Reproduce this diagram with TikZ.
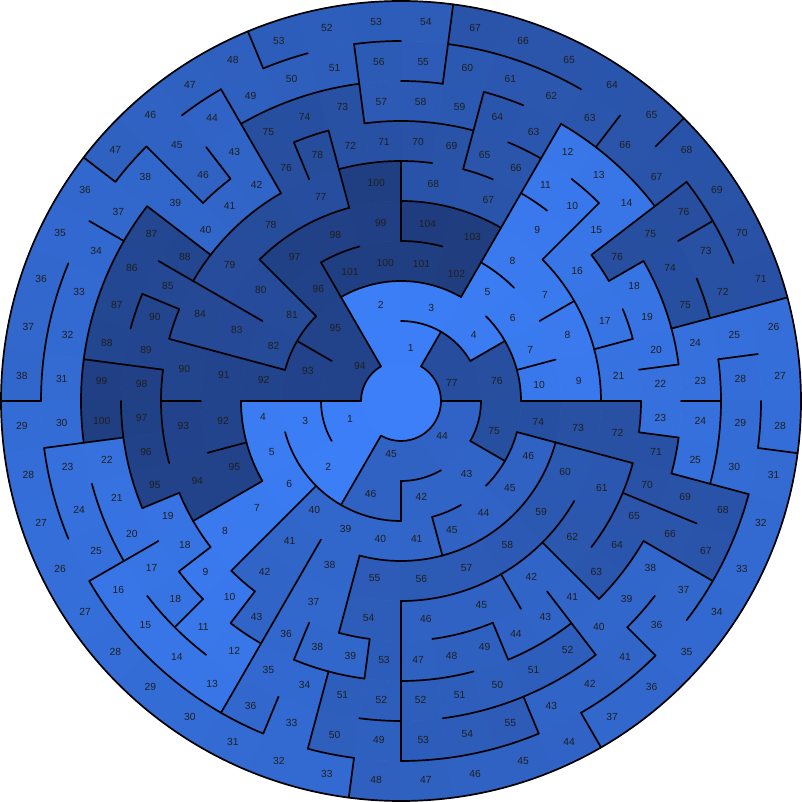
\documentclass[tikz,border=0pt]{standalone}
\usepackage{fontspec}
\setmainfont{Liberation Sans}
\definecolor{cLight}{RGB}{60,127,248}
\definecolor{cDark}{RGB}{31,60,126}
\tikzset{
  cellfill/.style={fill=cDark!#1!cLight,draw=cDark!#1!cLight,line width=0.6pt},
  wall/.style={draw=black,line width=1.7pt,line cap=round},
  lbl/.style={font=\fontsize{10.3}{12}\selectfont,text=black!88,inner sep=0pt}
}
% cell numbers, ring by ring, counter-clockwise from 0 degrees
\def\RZ{{0,0}}
\def\RA{{77,1,94,1,45,44}}
\def\RB{{76,4,3,2,95,93,3,2,46,42,43,75}}
\def\RC{{10,7,6,5,102,101,100,101,96,81,82,92,4,5,6,40,39,40,41,45,44,45,46,74}}
\def\RD{{9,8,7,8,103,104,99,98,97,80,83,91,92,95,7,41,38,55,56,57,58,59,60,73}}
\def\RE{{21,17,16,9,67,68,100,77,78,79,84,90,93,94,8,42,37,54,46,45,42,62,61,72}}
\def\RF{{22,20,19,18,76,15,10,11,66,65,69,70,71,72,78,76,42,41,40,88,85,90,89,98,97,96,95,19,18,9,10,43,36,38,39,53,47,48,49,44,43,41,63,64,65,70,71,23}}
\def\RG{{23,24,75,74,75,14,13,12,63,64,59,58,57,73,74,75,43,46,39,87,86,87,88,99,100,22,21,20,17,18,11,12,35,34,51,52,52,51,50,51,52,40,39,38,66,69,25,24}}
\def\RH{{28,25,72,73,76,67,66,63,62,61,60,55,56,51,50,49,44,45,38,37,34,33,32,31,30,23,24,25,16,15,14,13,36,33,50,49,53,54,55,43,42,41,36,37,67,68,30,29}}
\def\RI{{27,26,71,70,69,68,65,64,65,66,67,54,53,52,53,48,47,46,47,36,35,36,37,38,29,28,27,26,27,28,29,30,31,32,33,48,47,46,45,44,37,36,35,34,33,32,31,28}}
% #1 array, #2 cells, #3 last index, #4 inner radius
\newcommand\MzFill[4]{%
  \foreach \Mc in {0,...,#3}{%
    \pgfmathtruncatemacro\Mv{#1[\Mc]}%
    \pgfmathsetmacro\Mta{\Mc*(360/#2)}%
    \pgfmathsetmacro\Mtb{(\Mc+1)*(360/#2)}%
    \pgfmathsetmacro\Mro{#4+40}%
    \pgfmathtruncatemacro\Mpc{round(100*\Mv/104)}%
    \filldraw[cellfill=\Mpc] (\Mta:#4pt) arc[start angle=\Mta,end angle=\Mtb,radius=#4pt]
      -- (\Mtb:\Mro pt) arc[start angle=\Mtb,end angle=\Mta,radius=\Mro pt] -- cycle;
  }%
}
% #1 array, #2 cells, #3 last index, #4 inner radius, #5 inner array, #6 inner cells
\newcommand\MzWalls[6]{%
  \foreach \Mc in {0,...,#3}{%
    \pgfmathtruncatemacro\Mv{#1[\Mc]}%
    \pgfmathtruncatemacro\Mpidx{mod(\Mc+#2-1,#2)}%
    \pgfmathtruncatemacro\Mpv{#1[\Mpidx]}%
    \pgfmathtruncatemacro\Miidx{floor(\Mc*#6/#2)}%
    \pgfmathtruncatemacro\Miv{#5[\Miidx]}%
    \pgfmathsetmacro\Mta{\Mc*(360/#2)}%
    \pgfmathsetmacro\Mtb{(\Mc+1)*(360/#2)}%
    \pgfmathsetmacro\Mro{#4+40}%
    \pgfmathtruncatemacro\Mdr{abs(\Mv-\Mpv)}%
    \pgfmathtruncatemacro\Mdi{abs(\Mv-\Miv)}%
    \ifnum\Mdr=1\relax\else\draw[wall] (\Mta:#4pt) -- (\Mta:\Mro pt);\fi
    \ifnum\Mdi=1\relax\else\draw[wall] (\Mta:#4pt) arc[start angle=\Mta,end angle=\Mtb,radius=#4pt];\fi
  }%
}
% #1 array, #2 cells, #3 last index, #4 label radius, #5 angle offset, #6 name prefix
\newcommand\MzLabels[6]{%
  \foreach \Mc in {0,...,#3}{%
    \pgfmathtruncatemacro\Mv{#1[\Mc]}%
    \pgfmathsetmacro\Mtc{(\Mc+0.5)*(360/#2)+(#5)}%
    \node[lbl] (#6\Mc) at (\Mtc:#4pt) {\Mv};
  }%
}
\begin{document}
\begin{tikzpicture}[x=1pt,y=1pt]
\useasboundingbox (-401pt,-401pt) rectangle (401pt,401pt);
% cells
\fill[cLight] (0,0) circle[radius=41pt];
\MzFill{\RA}{6}{5}{40}
\MzFill{\RB}{12}{11}{80}
\MzFill{\RC}{24}{23}{120}
\MzFill{\RD}{24}{23}{160}
\MzFill{\RE}{24}{23}{200}
\MzFill{\RF}{48}{47}{240}
\MzFill{\RG}{48}{47}{280}
\MzFill{\RH}{48}{47}{320}
\MzFill{\RI}{48}{47}{360}
% walls
\MzWalls{\RA}{6}{5}{40}{\RZ}{1}
\MzWalls{\RB}{12}{11}{80}{\RA}{6}
\MzWalls{\RC}{24}{23}{120}{\RB}{12}
\MzWalls{\RD}{24}{23}{160}{\RC}{24}
\MzWalls{\RE}{24}{23}{200}{\RD}{24}
\MzWalls{\RF}{48}{47}{240}{\RE}{24}
\MzWalls{\RG}{48}{47}{280}{\RF}{48}
\MzWalls{\RH}{48}{47}{320}{\RG}{48}
\MzWalls{\RI}{48}{47}{360}{\RH}{48}
\draw[wall] (30:160pt) -- (30:200pt);
\draw[wall] (0:280pt) -- (0:320pt);
\draw[wall] (352.5:360pt) arc[start angle=352.5,end angle=360,radius=360pt];
\draw[wall] (0,0) circle[radius=400pt];
% labels
\MzLabels{\RA}{6}{5}{54}{-10.5}{La}
\MzLabels{\RB}{12}{11}{98}{-3}{Lb}
\MzLabels{\RC}{24}{23}{139}{-1}{Lc}
\MzLabels{\RD}{24}{23}{179}{-1}{Ld}
\MzLabels{\RE}{24}{23}{219}{-1}{Le}
\MzLabels{\RF}{48}{47}{260}{0}{Lf}
\MzLabels{\RG}{48}{47}{300}{0}{Lg}
\MzLabels{\RH}{48}{47}{340}{0}{Lh}
\MzLabels{\RI}{48}{47}{380}{0}{Li}
\end{tikzpicture}
\end{document}
